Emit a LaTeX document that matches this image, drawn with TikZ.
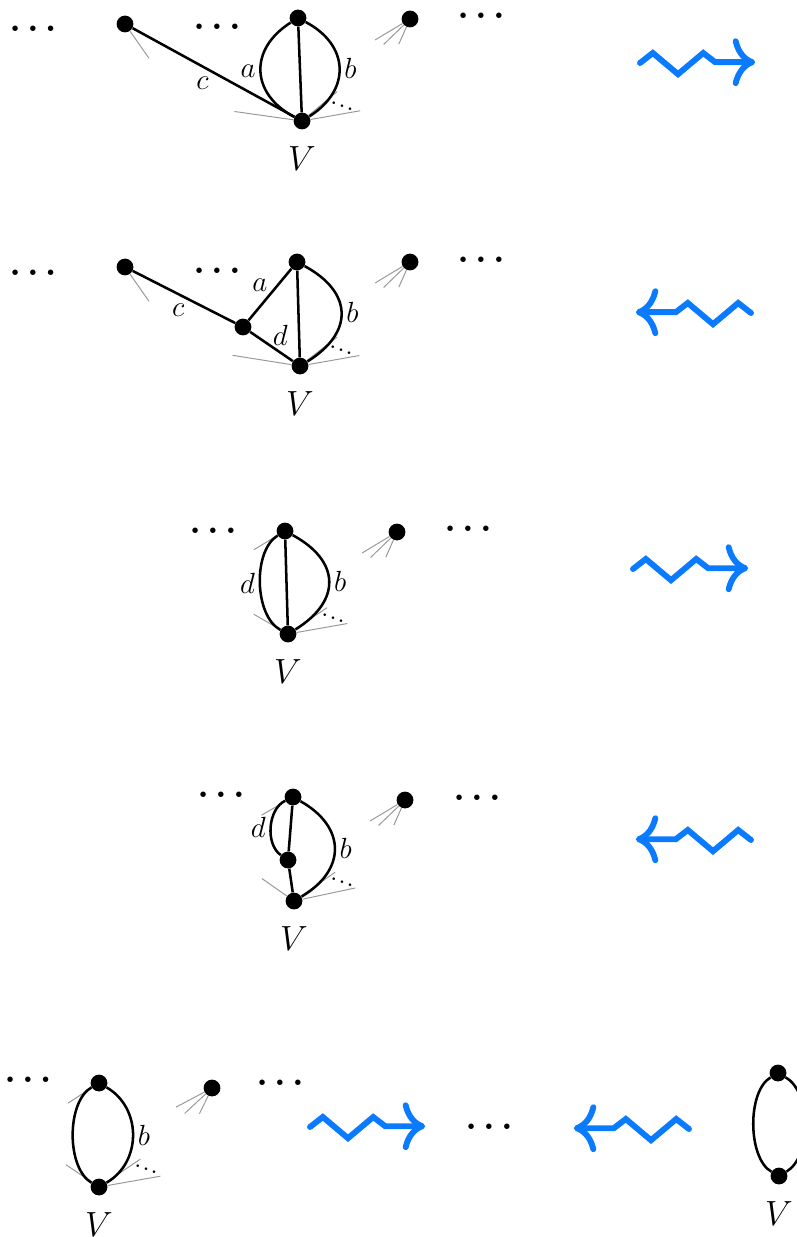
\documentclass[tikz,border=0pt]{standalone}
\usepackage{amsmath,amssymb}
\usepackage{tikz}
\usetikzlibrary{arrows.meta,positioning,calc}
\definecolor{squigblue}{RGB}{10,122,255}

\begin{document}
\begin{tikzpicture}[
    vtx/.style={circle, fill=black, minimum size=0.42cm, inner sep=0pt},
    link/.style={line width=1.8pt},
    stub/.style={black!40, line width=0.7pt},
    lbl/.style={font=\fontsize{21}{25}\selectfont, inner sep=2.5pt},
    vlbl/.style={font=\fontsize{25}{30}\selectfont, inner sep=0pt},
    more/.style={font=\fontsize{23}{28}\selectfont\boldmath, inner sep=0pt},
    fewer/.style={font=\fontsize{13}{15}\selectfont\boldmath, inner sep=0pt, rotate=-20},
    squig/.pic={\draw[squigblue, line width=4.2pt, line cap=round, -{To[length=16pt, width=34pt]}]
        (0,0) -- ++(0.32,0.25) -- ++(0.63,-0.53) -- ++(0.63,0.53) -- ++(0.3,-0.23) -- ++(1.0,0);},
]
\useasboundingbox (0,0) rectangle (19.925,-30.925);

% Row 1
\node[more] (dl1) at (0.825,-0.725) {$\ldots$};
\node[more] (dm1) at (5.425,-0.675) {$\ldots$};
\node[more] (dr1) at (12.025,-0.4) {$\ldots$};
\node[vtx] (l1) at (3.125,-0.6) {};
\node[vtx] (t1) at (7.45,-0.45) {};
\node[vtx] (v1) at (7.55,-3.025) {};
\node[vtx] (r1) at (10.25,-0.475) {};
\node[vlbl, below=0.41cm of v1] (vl1) {$V$};
\node[fewer] (f1) at ($(v1)+(1.0,0.38)$) {$\ldots$};
\draw[stub] (l1.-55) -- ++(-55:0.83);
\draw[stub] (r1.211) -- ++(211:0.8) (r1.224) -- ++(224:0.7) (r1.246) -- ++(246:0.47);
\draw[stub] (v1.172) -- ++(172:1.49) (v1.10) -- ++(10:1.26) (v1.40) -- ++(40:0.93);
\draw[link] (l1) -- node[lbl, below left] {$c$} (v1);
\draw[link] (t1) -- (v1);
\draw[link] (t1) to[bend right=60, looseness=1.34] node[lbl, left] {$a$} (v1);
\draw[link] (t1) to[bend left=60, looseness=1.34] node[lbl, right] {$b$} (v1);
\pic at (16.0,-1.575) {squig};

% Row 2
\node[more] (dl2) at (0.825,-6.825) {$\ldots$};
\node[more] (dm2) at (5.425,-6.775) {$\ldots$};
\node[more] (dr2) at (12.025,-6.5) {$\ldots$};
\node[vtx] (l2) at (3.125,-6.675) {};
\node[vtx] (t2) at (7.425,-6.55) {};
\node[vtx] (m2) at (6.075,-8.175) {};
\node[vtx] (v2) at (7.5,-9.15) {};
\node[vtx] (r2) at (10.25,-6.55) {};
\node[vlbl, below=0.41cm of v2] (vl2) {$V$};
\node[fewer] (f2) at ($(v2)+(1.025,0.4)$) {$\ldots$};
\draw[stub] (l2.-55) -- ++(-55:0.83);
\draw[stub] (r2.211) -- ++(211:0.8) (r2.224) -- ++(224:0.7) (r2.246) -- ++(246:0.47);
\draw[stub] (v2.171) -- ++(171:1.49) (v2.10) -- ++(10:1.29) (v2.38) -- ++(38:0.96);
\draw[link] (l2) -- node[lbl, pos=0.55, below left] {$c$} (m2);
\draw[link] (m2) -- node[lbl, above left, inner sep=1pt] {$a$} (t2);
\draw[link] (m2) -- node[lbl, above right, inner sep=0pt] {$d$} (v2);
\draw[link] (t2) -- (v2);
\draw[link] (t2) to[bend left=60, looseness=1.47] node[lbl, right] {$b$} (v2);
\pic[xscale=-1] at (18.775,-7.825) {squig};

% Row 3
\node[more] (dl3) at (5.325,-13.275) {$\ldots$};
\node[more] (dr3) at (11.7,-13.225) {$\ldots$};
\node[vtx] (t3) at (7.125,-13.275) {};
\node[vtx] (v3) at (7.2,-15.85) {};
\node[vtx] (r3) at (9.925,-13.3) {};
\node[vlbl, below=0.41cm of v3] (vl3) {$V$};
\node[fewer] (f3) at ($(v3)+(1.125,0.4)$) {$\ldots$};
\draw[stub] (t3.211) -- ++(211:0.69);
\draw[stub] (r3.211) -- ++(211:0.8) (r3.224) -- ++(224:0.7) (r3.246) -- ++(246:0.47);
\draw[stub] (v3.150) -- ++(150:0.77) (v3.34) -- ++(34:0.96) (v3.10) -- ++(10:1.29);
\draw[link] (t3) -- (v3);
\draw[link] (t3) to[bend right=60, looseness=0.8] node[lbl, left] {$d$} (v3);
\draw[link] (t3) to[bend left=60, looseness=1.47] node[lbl, right] {$b$} (v3);
\pic at (15.825,-14.225) {squig};

% Row 4
\node[more] (dl4) at (5.525,-19.875) {$\ldots$};
\node[more] (dr4) at (11.925,-19.95) {$\ldots$};
\node[vtx] (t4) at (7.325,-19.925) {};
\node[vtx] (m4) at (7.2,-21.5) {};
\node[vtx] (v4) at (7.35,-22.525) {};
\node[vtx] (r4) at (10.125,-20.0) {};
\node[vlbl, below=0.41cm of v4] (vl4) {$V$};
\node[fewer] (f4) at ($(v4)+(1.2,0.475)$) {$\ldots$};
\draw[stub] (t4.210) -- ++(210:0.69);
\draw[stub] (r4.211) -- ++(211:0.8) (r4.224) -- ++(224:0.7) (r4.246) -- ++(246:0.47);
\draw[stub] (v4.145) -- ++(145:0.76) (v4.35) -- ++(35:1.04) (v4.12) -- ++(12:1.35);
\draw[link] (t4) -- (m4);
\draw[link] (m4) -- (v4);
\draw[link] (t4) to[bend right=60, looseness=0.9] node[lbl, left] {$d$} (m4);
\draw[link] (t4) to[bend left=60, looseness=1.4] node[lbl, right] {$b$} (v4);
\pic[xscale=-1] at (18.775,-21.0) {squig};

% Row 5
\node[more] (dl5) at (0.7,-27.0) {$\ldots$};
\node[more] (dr5) at (7.0,-27.075) {$\ldots$};
\node[more] (dm5) at (12.225,-28.175) {$\ldots$};
\node[vtx] (t5) at (2.475,-27.075) {};
\node[vtx] (v5) at (2.475,-29.675) {};
\node[vtx] (r5) at (5.3,-27.2) {};
\node[vlbl, below=0.41cm of v5] (vl5) {$V$};
\node[fewer] (f5) at ($(v5)+(1.175,0.45)$) {$\ldots$};
\draw[stub] (t5.213) -- ++(213:0.71);
\draw[stub] (r5.208) -- ++(208:0.8) (r5.223) -- ++(223:0.72) (r5.244) -- ++(244:0.5);
\draw[stub] (v5.146) -- ++(146:0.78) (v5.34) -- ++(34:1.03) (v5.10) -- ++(10:1.34);
\draw[link] (t5) to[bend right=60, looseness=0.78] (v5);
\draw[link] (t5) to[bend left=60, looseness=1.1] node[lbl, right] {$b$} (v5);
\pic at (7.75,-28.175) {squig};
\pic[xscale=-1] at (17.225,-28.225) {squig};

% Row 5, far right
\node[vtx] (t6) at (19.45,-26.825) {};
\node[vtx] (v6) at (19.475,-29.4) {};
\node[vlbl, below=0.41cm of v6] (vl6) {$V$};
\draw[link] (t6) to[bend right=60, looseness=0.74] (v6);
\draw[link] (t6) to[bend left=60, looseness=0.8] (v6);
\end{tikzpicture}
\end{document}
